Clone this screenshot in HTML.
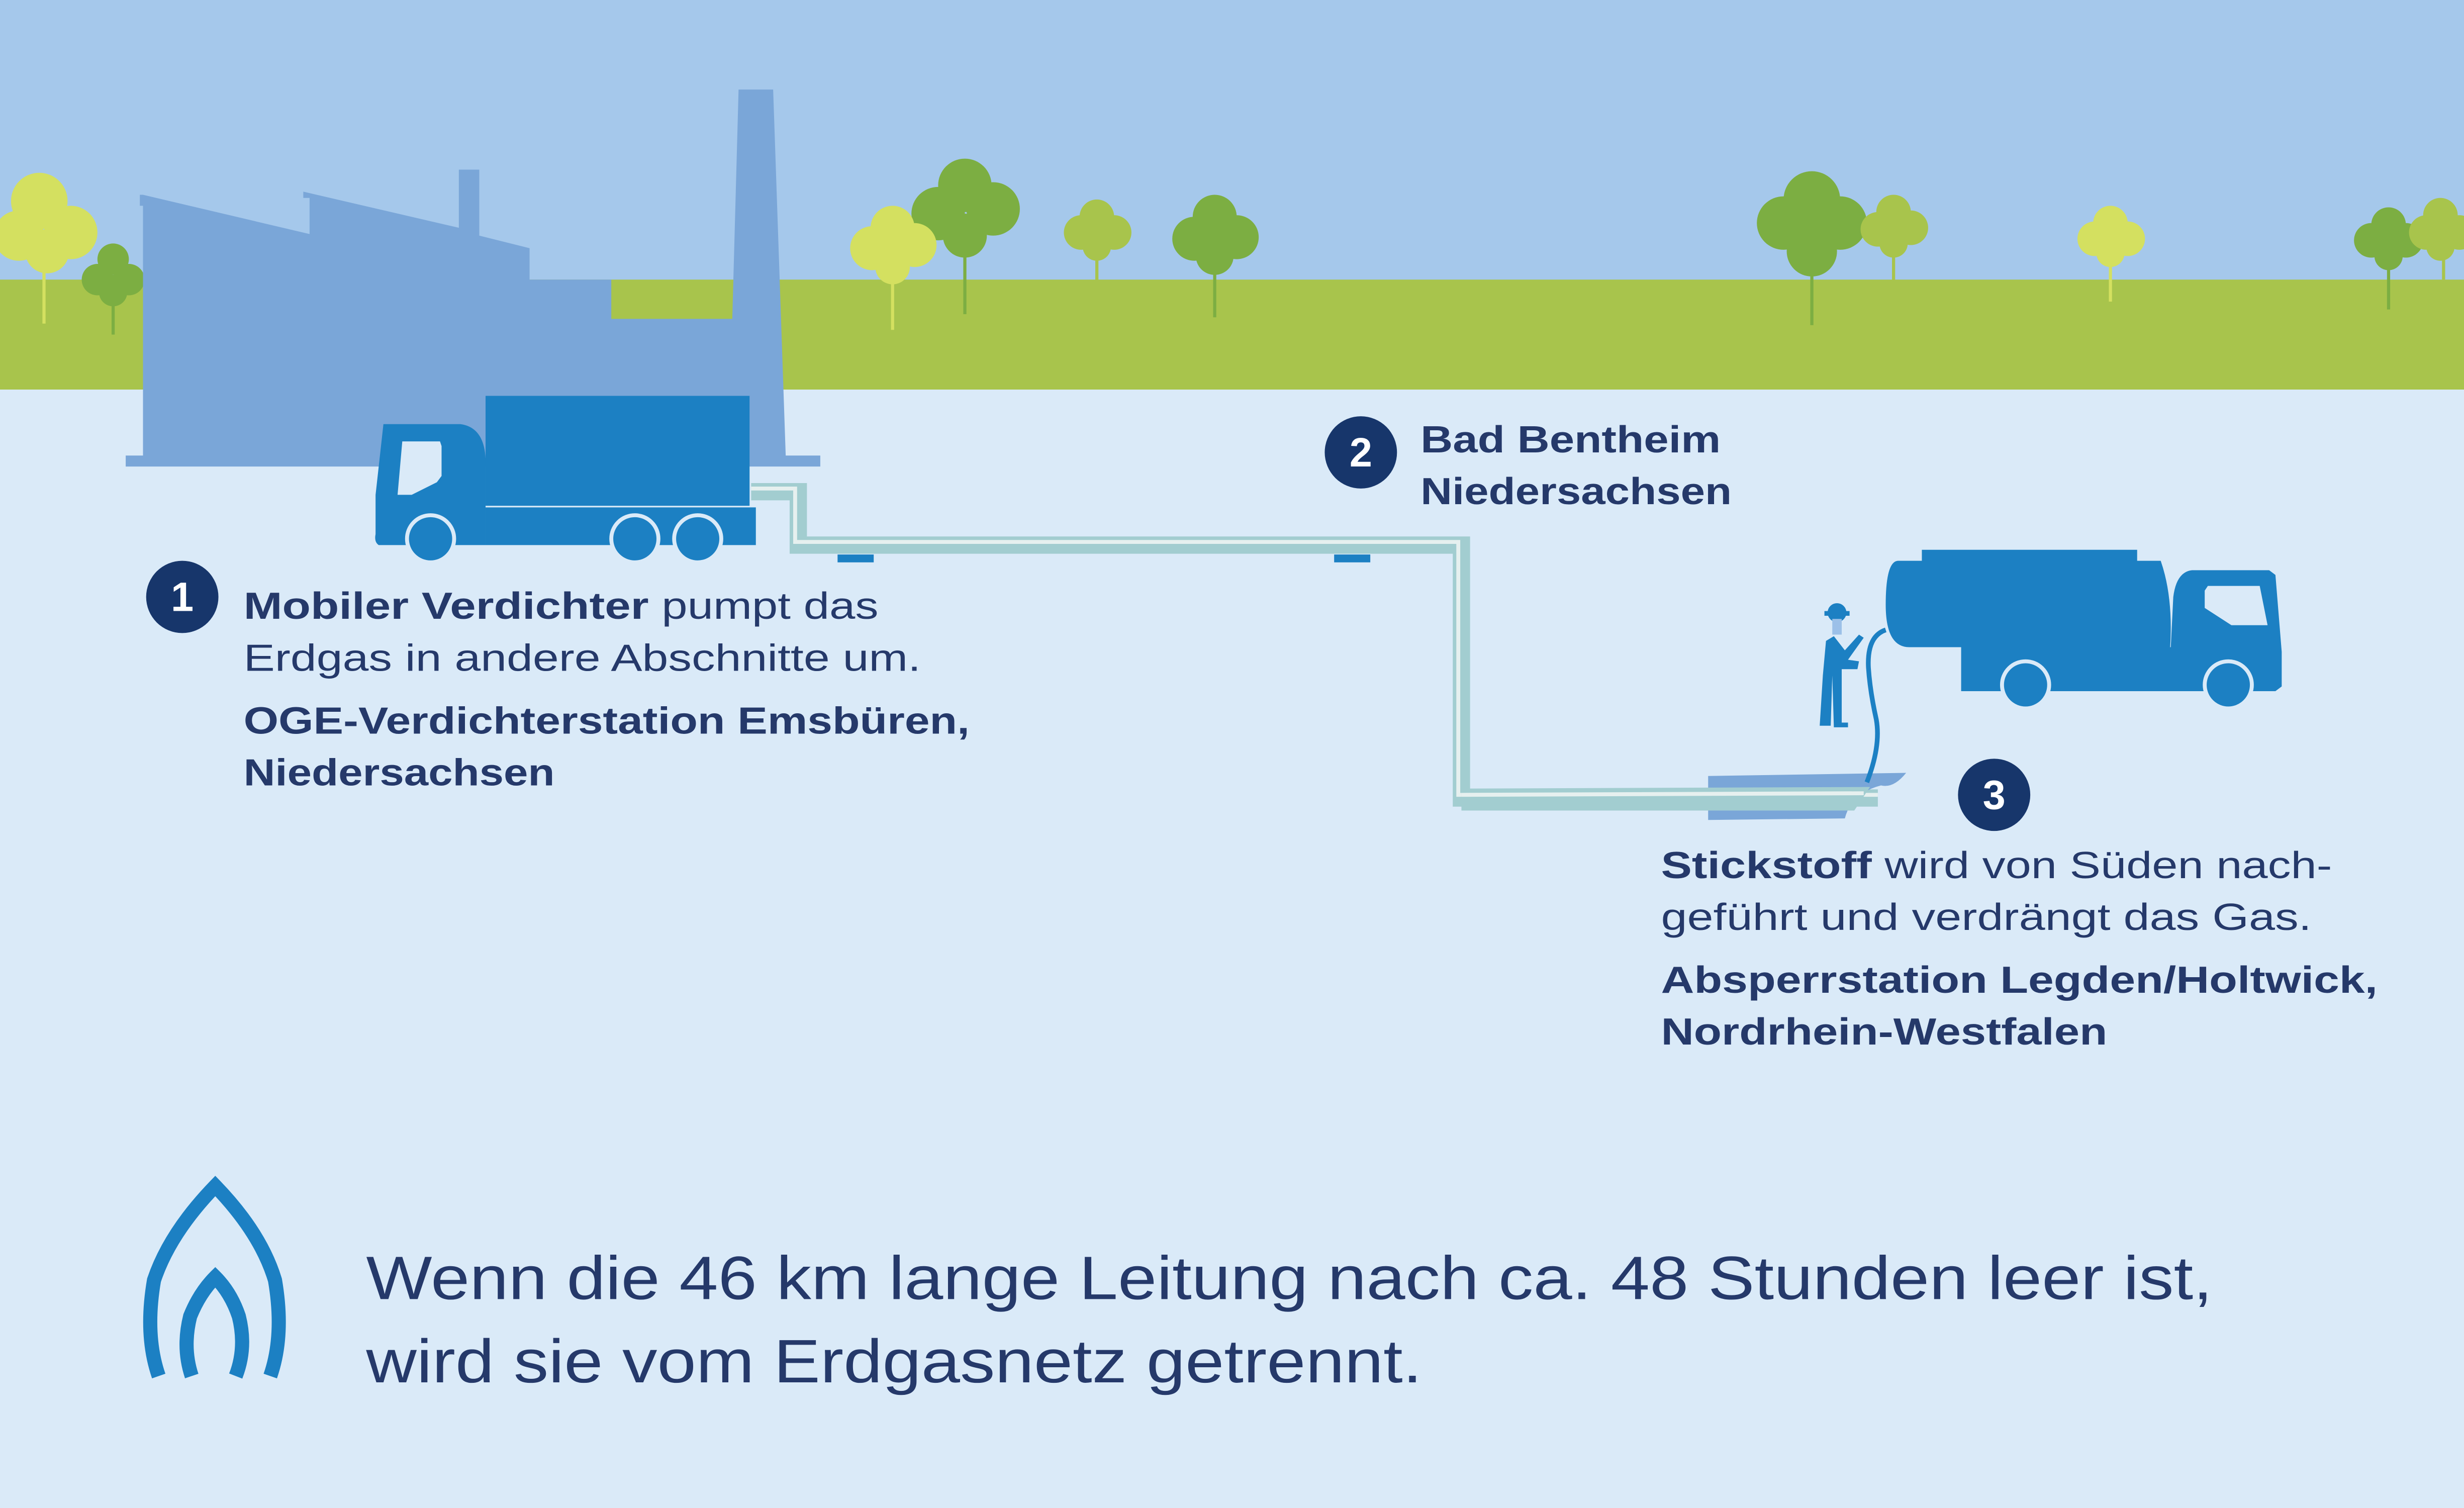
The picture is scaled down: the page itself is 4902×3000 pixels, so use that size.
<!DOCTYPE html>
<html><head><meta charset="utf-8"><style>
html,body{margin:0;padding:0;background:#daeaf8;}
svg{display:block;}
text{font-family:"Liberation Sans",sans-serif;fill:#25396a;}
.b{font-weight:bold;}
</style></head><body>
<svg width="4902" height="3000" viewBox="0 0 1568 960" preserveAspectRatio="none" xmlns="http://www.w3.org/2000/svg">
<rect x="0" y="0" width="1568" height="960" fill="#daeaf8"/>
<rect x="0" y="0" width="1568" height="180" fill="#a5c8eb"/>
<rect x="0" y="178" width="1568" height="70" fill="#a8c44c"/>

<!-- trees -->
<g>
<line x1="28" y1="150" x2="28" y2="206" stroke="#d4e060" stroke-width="2"/>
<circle cx="25" cy="128" r="18" fill="#d4e060"/><circle cx="12" cy="150" r="16" fill="#d4e060"/><circle cx="45" cy="148" r="17" fill="#d4e060"/><circle cx="30" cy="160" r="14" fill="#d4e060"/>
<line x1="72" y1="175" x2="72" y2="213" stroke="#7cae42" stroke-width="2"/>
<circle cx="72" cy="165" r="10" fill="#7cae42"/><circle cx="62" cy="178" r="10" fill="#7cae42"/><circle cx="82" cy="178" r="10" fill="#7cae42"/><circle cx="72" cy="186" r="9" fill="#7cae42"/>
<line x1="614" y1="140" x2="614" y2="200" stroke="#7cae42" stroke-width="2"/>
<circle cx="614" cy="118" r="17" fill="#7cae42"/><circle cx="597" cy="136" r="17" fill="#7cae42"/><circle cx="632" cy="133" r="17" fill="#7cae42"/><circle cx="614" cy="150" r="14" fill="#7cae42"/>
<line x1="568" y1="160" x2="568" y2="210" stroke="#d4e060" stroke-width="2"/>
<circle cx="568" cy="145" r="14" fill="#d4e060"/><circle cx="555" cy="158" r="14" fill="#d4e060"/><circle cx="582" cy="156" r="14" fill="#d4e060"/><circle cx="568" cy="170" r="11" fill="#d4e060"/>
<line x1="698" y1="150" x2="698" y2="182" stroke="#a8c44c" stroke-width="2"/>
<circle cx="698" cy="138" r="11" fill="#a8c44c"/><circle cx="688" cy="148" r="11" fill="#a8c44c"/><circle cx="709" cy="148" r="11" fill="#a8c44c"/><circle cx="698" cy="157" r="9" fill="#a8c44c"/>
<line x1="773" y1="150" x2="773" y2="202" stroke="#7cae42" stroke-width="2"/>
<circle cx="773" cy="138" r="14" fill="#7cae42"/><circle cx="760" cy="152" r="14" fill="#7cae42"/><circle cx="787" cy="151" r="14" fill="#7cae42"/><circle cx="773" cy="163" r="12" fill="#7cae42"/>
<line x1="1153" y1="140" x2="1153" y2="207" stroke="#7cae42" stroke-width="2"/>
<circle cx="1153" cy="127" r="18" fill="#7cae42"/><circle cx="1135" cy="142" r="17" fill="#7cae42"/><circle cx="1171" cy="142" r="17" fill="#7cae42"/><circle cx="1153" cy="160" r="16" fill="#7cae42"/>
<line x1="1205" y1="145" x2="1205" y2="180" stroke="#a8c44c" stroke-width="2"/>
<circle cx="1205" cy="135" r="11" fill="#a8c44c"/><circle cx="1195" cy="146" r="11" fill="#a8c44c"/><circle cx="1216" cy="145" r="11" fill="#a8c44c"/><circle cx="1205" cy="155" r="9" fill="#a8c44c"/>
<line x1="1343" y1="150" x2="1343" y2="192" stroke="#d4e060" stroke-width="2"/>
<circle cx="1343" cy="142" r="11" fill="#d4e060"/><circle cx="1333" cy="152" r="11" fill="#d4e060"/><circle cx="1354" cy="152" r="11" fill="#d4e060"/><circle cx="1343" cy="161" r="9" fill="#d4e060"/>
<line x1="1520" y1="150" x2="1520" y2="197" stroke="#7cae42" stroke-width="2"/>
<circle cx="1520" cy="143" r="11" fill="#7cae42"/><circle cx="1509" cy="153" r="11" fill="#7cae42"/><circle cx="1531" cy="153" r="11" fill="#7cae42"/><circle cx="1520" cy="163" r="9" fill="#7cae42"/>
<line x1="1555" y1="145" x2="1555" y2="178" stroke="#a8c44c" stroke-width="2"/>
<circle cx="1553" cy="137" r="11" fill="#a8c44c"/><circle cx="1544" cy="148" r="11" fill="#a8c44c"/><circle cx="1565" cy="148" r="11" fill="#a8c44c"/><circle cx="1553" cy="157" r="9" fill="#a8c44c"/>
</g>

<!-- factory -->
<path fill="#7aa6d8" d="M89,124 L91,124 L197,149 L197,126 L193,126 L193,122 L292,145 L292,108 L305,108 L305,150 L337,158 L337,178 L389,178 L389,203 L466,203 L470,57 L492,57 L500,290 L522,290 L522,297 L80,297 L80,290 L91,290 L91,131 L89,131 Z"/>

<!-- pipeline -->
<path d="M478,313 L508,313 L508,347 L930,347 L930,508 L1195,508" fill="none" stroke="#a2cdd0" stroke-width="11"/>
<path d="M478,311 L506,311 L506,345 L928,345 L928,506 L1195,506" fill="none" stroke="#e6f0ef" stroke-width="2.5"/>
<rect x="533" y="353" width="23" height="5" fill="#1c80c3"/>
<rect x="849" y="353" width="23" height="5" fill="#1c80c3"/>
<path d="M1087,494 L1213,492 Q1205,502 1197,500 Q1178,505 1174,521 L1087,522 Z" fill="#7aa6d8"/>
<path d="M930,502 L1190,501 L1180,516 L930,516 Z" fill="#a2cdd0"/>
<line x1="930" y1="506" x2="1186" y2="505" stroke="#e6f0ef" stroke-width="2.5"/>

<!-- truck 1 -->
<g fill="#1c80c3">
<rect x="309" y="252" width="168" height="70"/>
<rect x="309" y="323" width="172" height="24"/>
<path d="M244,270 L293,270 Q308,272 309,292 L309,347 L241,347 Q238,345 239,340 L239,315 Z"/>
</g>
<path d="M256,281 L280,281 L281,284 L281,303 L278,307 L262,315 L253,315 Z" fill="#daeaf8"/>
<g fill="#1c80c3" stroke="#daeaf8" stroke-width="2.5">
<circle cx="274" cy="343" r="15"/><circle cx="404" cy="343" r="15"/><circle cx="444" cy="343" r="15"/>
</g>

<!-- tanker -->
<g fill="#1c80c3">
<rect x="1223" y="350" width="137" height="8"/>
<path d="M1208,357 L1375,357 Q1383,380 1381,412 L1215,412 Q1200,412 1200,385 Q1200,357 1208,357 Z"/>
<rect x="1248" y="412" width="135" height="28"/>
<path d="M1395,363 L1444,363 L1448,366 L1452,415 L1452,437 L1448,440 L1380,440 L1383,380 Q1385,364 1395,363 Z"/>
</g>
<path d="M1405,373 L1438,373 L1443,398 L1420,398 L1403,387 L1403,376 Z" fill="#daeaf8"/>
<g fill="#1c80c3" stroke="#daeaf8" stroke-width="2.5">
<circle cx="1289" cy="436" r="15"/><circle cx="1418" cy="436" r="15"/>
</g>

<!-- worker + hose -->
<g fill="#1c80c3">
<circle cx="1169" cy="390" r="6"/><rect x="1161" y="389" width="16" height="3"/>
<path d="M1162,408 L1167,405 L1174,414 L1183,404 L1186,406 L1176,420 L1183,421 L1182,426 L1172,426 L1172,460 L1176,460 L1176,463 L1167,463 L1166,430 L1165,462 L1158,462 L1160,430 Z"/>
</g>
<rect x="1166" y="394" width="6" height="10" fill="#9cc0e8"/>
<path d="M1200,401 Q1188,405 1189,425 Q1190,440 1194,458 Q1197,475 1188,498" fill="none" stroke="#1c80c3" stroke-width="3"/>

<!-- circles -->
<g fill="#17366b">
<circle cx="116" cy="380" r="23"/><circle cx="866" cy="288" r="23"/><circle cx="1269" cy="506" r="23"/>
</g>
<g font-size="26" text-anchor="middle">
<text x="116" y="389" style="fill:#fff;font-weight:bold">1</text>
<text x="866" y="297" style="fill:#fff;font-weight:bold">2</text>
<text x="1269" y="515" style="fill:#fff;font-weight:bold">3</text>
</g>

<!-- labels -->
<g font-size="24" lengthAdjust="spacingAndGlyphs">
<text x="904" y="288" class="b" textLength="191" lengthAdjust="spacingAndGlyphs">Bad Bentheim</text>
<text x="904" y="321" class="b" textLength="198" lengthAdjust="spacingAndGlyphs">Niedersachsen</text>
<text x="155" y="394" textLength="404" lengthAdjust="spacingAndGlyphs"><tspan class="b">Mobiler Verdichter</tspan> pumpt das</text>
<text x="155" y="427" textLength="431" lengthAdjust="spacingAndGlyphs">Erdgas in andere Abschnitte um.</text>
<text x="155" y="467" class="b" textLength="462" lengthAdjust="spacingAndGlyphs">OGE-Verdichterstation Emsbüren,</text>
<text x="155" y="500" class="b" textLength="198" lengthAdjust="spacingAndGlyphs">Niedersachsen</text>
<text x="1057" y="559" textLength="427" lengthAdjust="spacingAndGlyphs"><tspan class="b">Stickstoff</tspan> wird von Süden nach-</text>
<text x="1057" y="592" textLength="414" lengthAdjust="spacingAndGlyphs">geführt und verdrängt das Gas.</text>
<text x="1057" y="632" class="b" textLength="456" lengthAdjust="spacingAndGlyphs">Absperrstation Legden/Holtwick,</text>
<text x="1057" y="665" class="b" textLength="284" lengthAdjust="spacingAndGlyphs">Nordrhein-Westfalen</text>
</g>
<text x="233" y="827" font-size="39" textLength="1175" lengthAdjust="spacingAndGlyphs">Wenn die 46 km lange Leitung nach ca. 48 Stunden leer ist,</text>
<text x="233" y="880" font-size="39" textLength="672" lengthAdjust="spacingAndGlyphs">wird sie vom Erdgasnetz getrennt.</text>

<!-- flame -->
<g fill="none" stroke="#1c80c3" stroke-width="9">
<path d="M101,876 Q92,850 98,815 Q108,785 137,755 Q166,785 175,815 Q181,850 172,876"/>
<path d="M122,876 Q116,858 121,838 Q127,823 137,813 Q147,823 152,838 Q157,858 150,876"/>
</g>
</svg>
</body></html>
